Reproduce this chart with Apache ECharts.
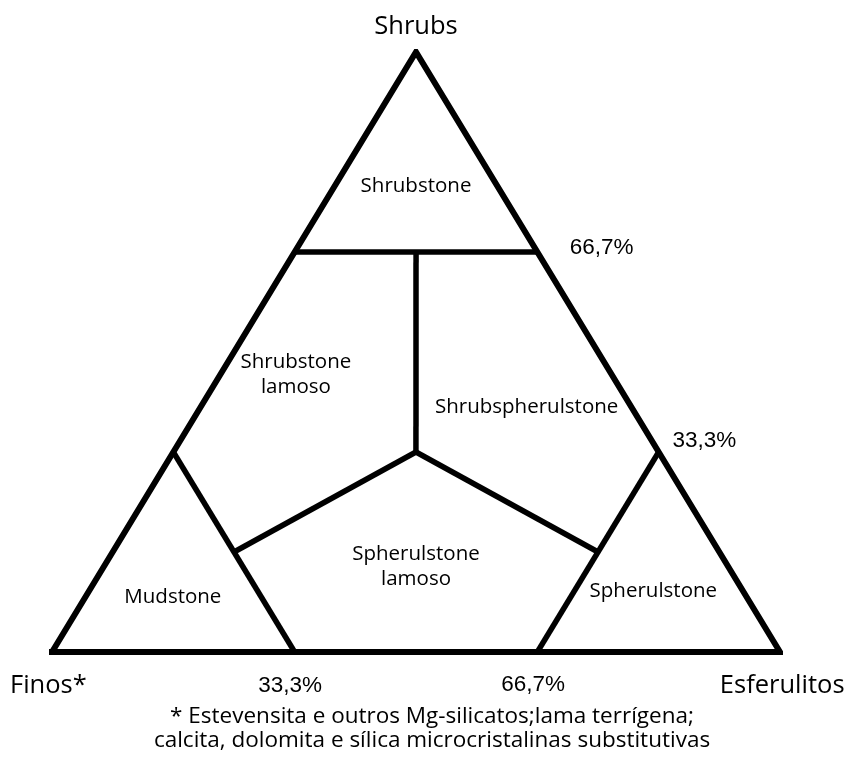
<!DOCTYPE html>
<html>
<head>
    <meta charset="UTF-8">
    <title>Diagrama ternário</title>
    <script src="https://cdn.jsdelivr.net/npm/echarts@6/dist/echarts.min.js"></script>
    <style>
        html, body { margin: 0; padding: 0; background: #fff; }
        #main { width: 848px; height: 764px; }
    </style>
</head>
<body>
<div id="main"></div>
<script>
    // composições ternárias [finos, esferulitos, shrubs]
    var outline = [[1, 0, 0], [0, 1, 0], [0, 0, 1], [1, 0, 0]];
    var boundaries = [
        [[0.3333, 0, 0.6667], [0, 0.3333, 0.6667]],            // shrubstone
        [[0.1667, 0.1667, 0.6667], [0.3333, 0.3333, 0.3333]],  // vertical
        [[0.3333, 0.3333, 0.3333], [0.6667, 0.1667, 0.1667]],
        [[0.3333, 0.3333, 0.3333], [0.1667, 0.6667, 0.1667]],
        [[0.6667, 0, 0.3333], [0.6667, 0.3333, 0]],            // mudstone
        [[0, 0.6667, 0.3333], [0.3333, 0.6667, 0]]             // spherulstone
    ];

    var regionNames = ['Shrubstone', 'Shrubstone\nlamoso', 'Shrubspherulstone', 'Mudstone', 'Spherulstone\nlamoso', 'Spherulstone'];
    var regionPos = [[0.5, 0.777], [0.335, 0.462], [0.652, 0.408], [0.166, 0.092], [0.5, 0.142], [0.826, 0.102]];

    var tickLabels = ['66,7%', '33,3%', '33,3%', '66,7%'];
    var tickPos = [[0.755, 0.673], [0.896, 0.352], [0.327, -0.057], [0.661, -0.054]];

    var cornerNames = ['Shrubs', 'Finos*', 'Esferulitos'];
    var cornerPos = [[0.5, 1.042], [-0.005, -0.057], [1.003, -0.057]];

    var footnote = '* Estevensita e outros Mg-silicatos;lama terrígena;\ncalcita, dolomita e sílica microcristalinas substitutivas';

    function tern(p) {
        // x = esferulitos + shrubs/2, y = shrubs
        return [p[1] + p[2] / 2, p[2]];
    }

    var series = [];
    series.push({
        type: 'line', data: outline.map(tern), symbol: 'none', silent: true,
        lineStyle: { color: '#000', width: 6, join: 'miter', miterLimit: 20, cap: 'square' }
    });
    boundaries.forEach(function (seg) {
        series.push({
            type: 'line', data: seg.map(tern), symbol: 'none', silent: true,
            lineStyle: { color: '#000', width: 5.5 }
        });
    });

    function textSeries(names, pos, font, size) {
        return {
            type: 'scatter', symbolSize: 0, silent: true, clip: false,
            itemStyle: { opacity: 1 },
            data: pos.map(function (p, i) { return { value: p, name: names[i] }; }),
            label: {
                show: true, position: 'inside', formatter: '{b}',
                color: '#000', textBorderWidth: 0,
                fontFamily: font, fontSize: size, lineHeight: Math.round(size * 1.2)
            }
        };
    }
    series.push(textSeries(regionNames, regionPos, 'Open Sans', 20.5));
    series.push(textSeries(tickLabels, tickPos, 'Liberation Sans', 22.5));
    series.push(textSeries(cornerNames, cornerPos, 'Open Sans', 25.5));

    var myChart = echarts.init(document.getElementById('main'));
    myChart.setOption({
        animation: false,
        grid: { left: 52, right: 68, top: 52, bottom: 112 },
        xAxis: { type: 'value', min: 0, max: 1, show: false },
        yAxis: { type: 'value', min: 0, max: 1, show: false },
        graphic: [{
            type: 'text', x: 432, y: 705,
            style: {
                text: footnote, fill: '#000', font: '22.5px "Open Sans"',
                align: 'center', verticalAlign: 'top', lineHeight: 24
            }
        }],
        series: series
    });
</script>
</body>
</html>
